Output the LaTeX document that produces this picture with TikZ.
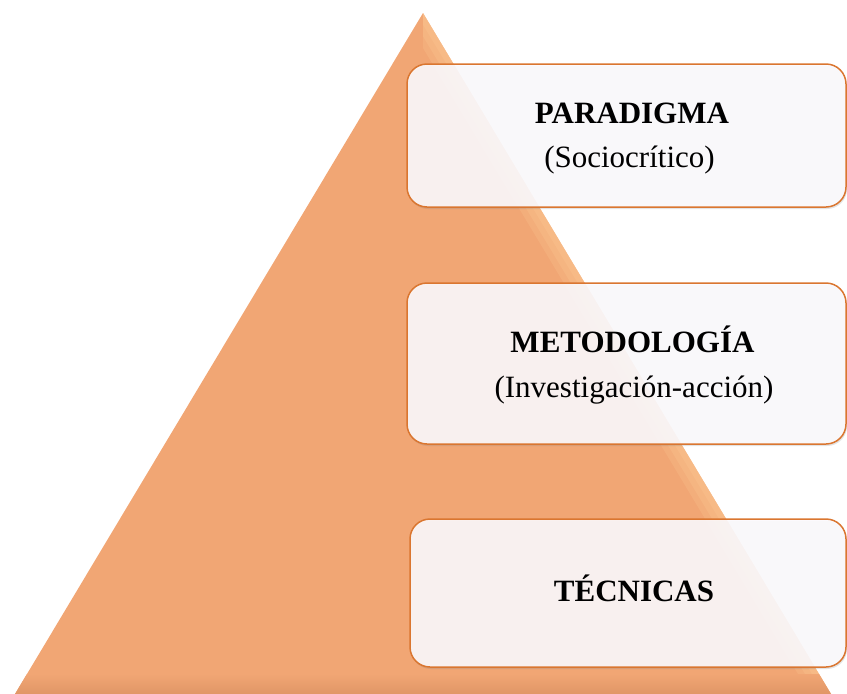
\documentclass[tikz,border=0pt]{standalone}
\usepackage{fontspec}
\setmainfont{Liberation Serif}
\usetikzlibrary{shadows}
\definecolor{pyr}{RGB}{241,166,116}
\definecolor{pyrlight}{RGB}{252,198,146}
\definecolor{pyrdark}{RGB}{224,150,102}
\definecolor{boxline}{RGB}{218,118,48}
\definecolor{boxfill}{RGB}{252,250,253}
\begin{document}
\begin{tikzpicture}[x=1pt,y=1pt,
  levelbox/.style={draw=boxline, line width=1.5pt, rounded corners=20pt,
    fill=boxfill, fill opacity=0.9, draw opacity=1, inner sep=0pt,
    drop shadow={opacity=0.22,shadow xshift=1pt,shadow yshift=-2pt}},
  bevel/.style={draw=pyrlight, line cap=butt},
  titletext/.style={font=\fontsize{31}{36}\selectfont\bfseries, anchor=base, inner sep=0pt},
  subtext/.style={font=\fontsize{31}{36}\selectfont, anchor=base, inner sep=0pt}]
\useasboundingbox (0,0) rectangle (847,-694);
% pyramid
\coordinate (apex) at (423,-13);
\coordinate (bl) at (15,-694);
\coordinate (br) at (831,-694);
\fill[pyr] (apex) -- (br) -- (bl) -- cycle;
\begin{scope}
  \clip (apex) -- (br) -- (bl) -- cycle;
  \clip (423,0) rectangle (847,-694);
  \draw[bevel, line width=36pt, draw opacity=0.25] (apex) -- (br);
  \draw[bevel, line width=24pt, draw opacity=0.3] (apex) -- (br);
  \draw[bevel, line width=12pt, draw opacity=0.35] (apex) -- (br);
\end{scope}
\begin{scope}
  \clip (apex) -- (br) -- (bl) -- cycle;
  \shade[top color=pyr, bottom color=pyrdark] (0,-674) rectangle (847,-694);
\end{scope}
% boxes
\node[levelbox, minimum width=439pt, minimum height=143pt] (b1) at (626.5,-135.5) {};
\node[levelbox, minimum width=439pt, minimum height=161pt] (b2) at (626.5,-363.5) {};
\node[levelbox, minimum width=436pt, minimum height=148pt] (b3) at (628,-593) {};
% texts
\node[titletext] (t1) at (632,-123.3) {PARADIGMA};
\node[subtext] (s1) at (629.5,-167.3) {(Sociocrítico)};
\node[titletext] (t2) at (632.5,-352.7) {METODOLOGÍA};
\node[subtext] (s2) at (634,-397.3) {(Investigación-acción)};
\node[titletext] (t3) at (634,-601.7) {TÉCNICAS};
\end{tikzpicture}
\end{document}
